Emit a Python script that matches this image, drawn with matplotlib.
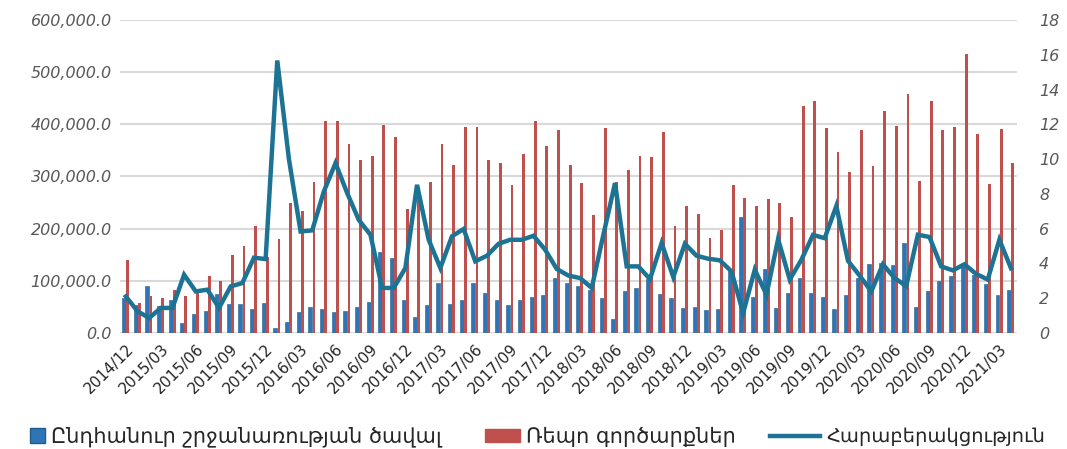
import matplotlib
matplotlib.use("Agg")
import matplotlib.pyplot as plt
import numpy as np
import pandas as pd
from matplotlib.patches import Patch
from matplotlib.lines import Line2D
from matplotlib.ticker import FuncFormatter

months = list(pd.period_range("2014-12", "2021-04", freq="M").strftime("%Y/%m"))

total_volume = [67, 54, 90, 51, 63, 20, 37, 43, 75, 56, 56, 46, 58, 10, 22, 40, 49, 46, 40, 43,
                49, 60, 156, 143, 63, 31, 53, 96, 56, 63, 96, 76, 63, 53, 63, 69, 72, 106, 96,
                91, 82, 67, 27, 80, 87, 103, 74, 67, 47, 50, 44, 46,
                123, 222, 69, 123, 47, 76, 106, 76, 69, 46, 72, 105,
                133, 135, 130, 173, 50, 80, 99, 109, 128, 112, 93, 72, 83]
total_volume = [v * 1000 for v in total_volume]

repo_deals = [140, 57, 70, 67, 83, 70, 76, 110, 99, 150, 166, 205, 145, 180, 250, 233, 290, 406,
              406, 362, 332, 340, 399, 376, 237, 280, 290, 363, 322, 395, 395, 332, 326, 283, 343,
              406, 359, 390, 322, 287, 226, 392, 290, 313, 340, 337, 386, 206, 244, 229, 183, 197,
              283, 259, 243, 256, 250, 223, 435, 445, 392, 346, 309, 389,
              320, 425, 396, 459, 292, 445, 389, 395, 535, 382, 286, 391, 326]
repo_deals = [v * 1000 for v in repo_deals]

ratio = [2.1, 1.25, 0.86, 1.44, 1.44, 3.35, 2.39, 2.49, 1.44, 2.68, 2.87, 4.33, 4.25, 15.67,
         10.0, 5.84, 5.9, 8.14, 9.77, 8.05, 6.5, 5.65, 2.59, 2.59, 3.74, 8.52, 5.36, 3.74, 5.56,
         5.98, 4.12, 4.44, 5.13, 5.36, 5.36, 5.59, 4.79, 3.68, 3.3, 3.16, 2.59, 5.65, 8.62, 3.83,
         3.83, 3.10, 5.17, 3.22, 5.13, 4.44, 4.27, 4.18, 3.54, 1.15, 3.64, 2.2, 5.4, 3.07, 4.21,
         5.64, 5.45, 7.3, 4.15, 3.3, 2.39, 3.95, 3.16, 2.7, 5.65, 5.52, 3.83, 3.6, 3.95, 3.4,
         3.07, 5.36, 3.72]

legend_labels = ["Ընդհանուր շրջանառության ծավալ", "Ռեպո գործարքներ", "Հարաբերակցություն"]

BLUE = "#2F74B5"
BLUE_EDGE = "#1F5D8A"
RED = "#C0504D"
LINE = "#1D7393"
GRID = "#D9D9D9"

plt.rcParams["font.family"] = ["DejaVu Sans"]

W, H = 1067, 449
fig = plt.figure(figsize=(W / 100, H / 100), dpi=100)
ax = fig.add_axes([0.1125, 0.2584, 0.8405, 0.6971])
x = np.arange(len(months))

ax.bar(x - 0.16, total_volume, width=0.34, color=BLUE, edgecolor=BLUE_EDGE, linewidth=0.4, zorder=2)
ax.bar(x + 0.15, repo_deals, width=0.24, color=RED, linewidth=0, zorder=2)

ax.set_xlim(-0.5, len(months) - 0.5)
ax.set_ylim(0, 600000)
ax.set_yticks(np.arange(0, 600001, 100000))
ax.yaxis.set_major_formatter(FuncFormatter(lambda v, p: f"{v:,.1f}"))
ax.grid(axis="y", color=GRID, linewidth=1.5, zorder=0)
ax.set_axisbelow(True)
for s in ax.spines.values():
    s.set_visible(False)
ax.tick_params(axis="y", length=0, pad=6, labelsize=11.5, labelcolor="#595959")
for t in ax.get_yticklabels():
    t.set_fontstyle("italic")

tick_pos = x[::3]
ax.set_xticks(tick_pos)
ax.set_xticklabels([months[i] for i in tick_pos], rotation=45, ha="right", va="top",
                   rotation_mode="anchor", fontsize=11, color="#262626")
ax.tick_params(axis="x", length=0, pad=6)

ax2 = ax.twinx()
ax2.plot(x, ratio, color=LINE, linewidth=3.2, solid_joinstyle="miter", zorder=3)
ax2.set_ylim(0, 18)
ax2.set_yticks(np.arange(0, 19, 2))
for s in ax2.spines.values():
    s.set_visible(False)
ax2.tick_params(axis="y", length=0, pad=16, labelsize=11.5, labelcolor="#595959")
for t in ax2.get_yticklabels():
    t.set_fontstyle("italic")
ax2.set_xlim(-0.5, len(months) - 0.5)

handles = [Patch(facecolor=BLUE, edgecolor=BLUE_EDGE, linewidth=1),
           Patch(facecolor=RED, edgecolor=RED),
           Line2D([0], [0], color=LINE, linewidth=3.2)]
leg_x = [30, 485, 770]
leg_len = [0.75, 1.75, 2.5]
leg_hh = [0.75, 0.6, 0.7]
leg_fs = [15, 15, 14]
for h, lab, lx, hl, hh, fs in zip(handles, legend_labels, leg_x, leg_len, leg_hh, leg_fs):
    fig.legend([h], [lab], loc="center left", bbox_to_anchor=(lx / W, 12 / H),
               frameon=False, fontsize=fs, handlelength=hl * 14.5 / fs, handleheight=hh,
               handletextpad=0.3, borderpad=0, borderaxespad=0, labelcolor="#262626")

fig.savefig("out.png", dpi=100)
